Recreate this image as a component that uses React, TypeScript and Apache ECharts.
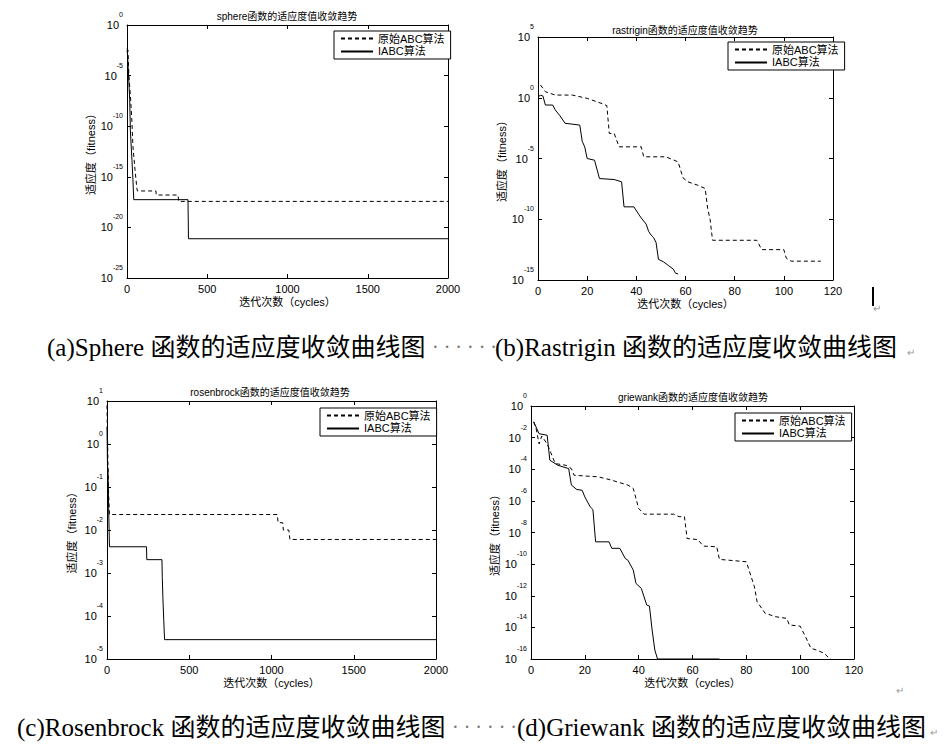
import React, { useEffect, useRef } from "react";
import * as echarts from "echarts";

// Each point: [cycle, log10(fitness)]
const sphereABC: [number, number][] = [
  [0, -2.3], [6, -2.5], [12, -5.1], [23, -7.4], [31, -9.7], [37, -12.0], [48, -14.0], [62, -16.2],
  [65, -16.4], [180, -16.4], [183, -16.8], [318, -16.8], [322, -17.43], [2000, -17.43],
];
const sphereIABC: [number, number][] = [
  [0, -2.5], [3, -2.8], [17, -7.4], [21, -10.4], [31, -13.4], [37, -15.3], [42, -17.26],
  [380, -17.26], [383, -21.12], [2000, -21.12],
];
const rastriginABC: [number, number][] = [
  [1, 1.05], [3, 0.5], [7, 0.22], [14, 0.22], [20, -0.05], [27, -0.55], [28, -0.65], [29, -2.94],
  [31, -2.94], [32, -3.5], [33, -4.04], [42, -4.04], [43, -4.86], [52, -4.86], [57, -5.28],
  [59, -6.6], [61, -6.92], [65, -7.2], [68, -7.47], [69, -9.1], [70, -10.0], [71, -11.73],
  [89, -11.73], [91, -12.5], [100, -12.5], [101, -13.2], [103, -13.45], [115, -13.45],
];
const rastriginIABC: [number, number][] = [
  [0, 0.08], [1, 0.2], [2, 0.15], [3, -0.6], [6, -0.6], [7, -1.0], [9, -1.5], [11, -2.1],
  [17, -2.25], [18, -3.6], [19, -4.04], [20, -5.0], [23, -5.14], [25, -6.65], [31, -6.73],
  [34, -6.92], [35, -8.98], [39, -8.98], [41, -9.6], [42, -9.9], [44, -10.4], [45, -11.0],
  [46, -11.3], [47, -11.5], [48, -11.9], [49, -13.3], [51, -13.5], [53, -13.8], [55, -14.1],
  [56, -14.45], [57, -14.5],
];
const rosenbrockABC: [number, number][] = [
  [0, 0.9], [3, 0.2], [6, -0.5], [10, -1.2], [15, -1.64], [1035, -1.64], [1040, -1.83],
  [1068, -1.83], [1072, -2.0], [1105, -2.0], [1112, -2.22], [2000, -2.22],
];
const rosenbrockIABC: [number, number][] = [
  [0, 0.4], [3, -0.5], [6, -0.6], [10, -1.5], [15, -2.39], [240, -2.39], [242, -2.69],
  [334, -2.69], [336, -3.1], [340, -3.6], [345, -4.1], [350, -4.55], [2000, -4.55],
];
const griewankABC: [number, number][] = [
  [1, -1.0], [2, -1.5], [3, -2.4], [4, -1.9], [6, -2.4], [7, -2.8], [9, -3.64], [13, -3.75],
  [15, -3.96], [16, -4.38], [25, -4.48], [30, -4.69], [32, -4.8], [36, -5.0], [38, -5.22],
  [40, -6.48], [42, -6.84], [53, -6.84], [55, -7.0], [57, -7.0], [58, -8.38], [62, -8.45],
  [64, -8.86], [69, -8.9], [70, -9.7], [80, -9.85], [81, -10.38], [83, -11.43], [84, -12.38],
  [87, -13.11], [91, -13.33], [95, -13.43], [96, -13.85], [100, -13.92], [102, -14.6],
  [104, -15.32], [106, -15.43], [109, -15.64], [111, -16.0], [112, -16.05],
];
const griewankIABC: [number, number][] = [
  [1, -1.0], [3, -1.75], [6, -1.85], [7, -3.43], [10, -3.75], [14, -3.96], [15, -5.0],
  [17, -5.28], [19, -5.33], [20, -5.75], [22, -6.38], [23, -6.55], [24, -8.59], [29, -8.59],
  [30, -9.0], [33, -9.0], [35, -9.64], [36, -9.75], [38, -10.38], [39, -11.22], [41, -11.54],
  [43, -12.59], [44, -12.65], [45, -14.17], [46, -15.43], [47, -16.0], [70, -16.0],
];

const seriesNames = ["原始ABC算法", "IABC算法"];
const titles = [
  "sphere函数的适应度值收敛趋势",
  "rastrigin函数的适应度值收敛趋势",
  "rosenbrock函数的适应度值收敛趋势",
  "griewank函数的适应度值收敛趋势",
];
const xName = "迭代次数（cycles）";
const yName = "适应度（fitness）";
const captionsRow1 = ["(a)Sphere 函数的适应度收敛曲线图", "(b)Rastrigin 函数的适应度收敛曲线图"];
const captionsRow2 = ["(c)Rosenbrock 函数的适应度收敛曲线图", "(d)Griewank 函数的适应度收敛曲线图"];

const SANS = "'Liberation Sans', 'Noto Sans CJK SC', sans-serif";
const SERIF = "'Liberation Serif', 'Noto Sans CJK SC', serif";

const panels = [
  { grid: { left: 127, top: 25, width: 321, height: 253 }, xMax: 2000, xInt: 500, yMin: -25, yMax: 0, yInt: 5,
    tx: 287, ty: 16, abc: sphereABC, iabc: sphereIABC, lg: { left: 334, top: 31 } },
  { grid: { left: 538, top: 37, width: 295, height: 243 }, xMax: 120, xInt: 20, yMin: -15, yMax: 5, yInt: 5,
    tx: 685, ty: 30, abc: rastriginABC, iabc: rastriginIABC, lg: { left: 728, top: 42 } },
  { grid: { left: 107, top: 401, width: 329, height: 258 }, xMax: 2000, xInt: 500, yMin: -5, yMax: 1, yInt: 1,
    tx: 270, ty: 392, abc: rosenbrockABC, iabc: rosenbrockIABC, lg: { left: 320, top: 408 } },
  { grid: { left: 531, top: 406, width: 323, height: 253 }, xMax: 120, xInt: 20, yMin: -16, yMax: 0, yInt: 2,
    tx: 693, ty: 397, abc: griewankABC, iabc: griewankIABC, lg: { left: 735, top: 413 } },
];

export default function App() {
  const ref = useRef<HTMLDivElement>(null);
  useEffect(() => {
    if (!ref.current) return;
    const chart = echarts.init(ref.current, undefined, { renderer: "svg" });
    const axisLine = { show: true, onZero: false, lineStyle: { color: "#000", width: 1 } };
    const tick = { show: true, inside: true, length: 4, lineStyle: { color: "#000", width: 1 } };
    const xAxis: any[] = [];
    const yAxis: any[] = [];
    const series: any[] = [];
    const legend: any[] = [];
    const graphic: any[] = [];
    panels.forEach((p, i) => {
      const xBase = { type: "value", gridIndex: i, min: 0, max: p.xMax, interval: p.xInt, splitLine: { show: false }, axisLine, axisTick: tick };
      const yBase = { type: "value", gridIndex: i, min: p.yMin, max: p.yMax, interval: p.yInt, splitLine: { show: false }, axisLine, axisTick: tick };
      xAxis.push({
        ...xBase, position: "bottom",
        axisLabel: { color: "#000", fontSize: 11, fontFamily: SANS, margin: 5, formatter: (v: number) => String(v) },
        name: xName, nameLocation: "middle", nameGap: 18,
        nameTextStyle: { color: "#000", fontSize: 11, fontFamily: SANS },
      });
      xAxis.push({ ...xBase, position: "top", axisLabel: { show: false } });
      yAxis.push({
        ...yBase, position: "left",
        axisLabel: {
          margin: 4,
          formatter: (v: number) => `{b|10}{s|${Math.round(v)}}`,
          rich: {
            b: { fontSize: 11, fontFamily: SANS, color: "#000", verticalAlign: "middle", lineHeight: 28 },
            s: { fontSize: 7, fontFamily: SANS, color: "#000", verticalAlign: "top", lineHeight: 10 },
          },
        },
        name: yName, nameLocation: "middle", nameGap: 30,
        nameTextStyle: { color: "#000", fontSize: 11, fontFamily: SANS },
      });
      yAxis.push({ ...yBase, position: "right", axisLabel: { show: false } });
      series.push({
        type: "line", name: seriesNames[0], xAxisIndex: 2 * i, yAxisIndex: 2 * i, data: p.abc,
        symbol: "none", lineStyle: { color: "#000", width: 1, type: [4, 3] }, itemStyle: { color: "#000" },
      });
      series.push({
        type: "line", name: seriesNames[1], xAxisIndex: 2 * i, yAxisIndex: 2 * i, data: p.iabc,
        symbol: "none", lineStyle: { color: "#000", width: 1, type: "solid" }, itemStyle: { color: "#000" },
      });
      legend.push({
        left: p.lg.left, top: p.lg.top, orient: "vertical", data: seriesNames,
        backgroundColor: "#fff", borderColor: "#000", borderWidth: 1, borderRadius: 0,
        padding: [2, 6, 2, 6], itemGap: 2, itemWidth: 32, itemHeight: 12,
        itemStyle: { color: "rgba(0,0,0,0)", borderWidth: 0 },
        textStyle: { color: "#000", fontSize: 11, fontFamily: SANS },
        selectedMode: false,
      });
      graphic.push({
        type: "text", x: p.tx, y: p.ty,
        style: { text: titles[i], fill: "#000", font: `10px ${SANS}`, align: "center", verticalAlign: "middle" },
      });
    });
    const cap = (text: string, x: number, y: number) => ({
      type: "text", x, y,
      style: { text, fill: "#000", font: `25px ${SERIF}`, align: "left", verticalAlign: "middle" },
    });
    const dots = (x: number, y: number) => ({
      type: "text", x, y,
      style: { text: "· · · · · ·", fill: "#777", font: `20px ${SERIF}`, align: "left", verticalAlign: "middle" },
    });
    const ret = (x: number, y: number) => ({
      type: "text", x, y,
      style: { text: "↵", fill: "#999", font: `10px ${SANS}`, align: "left", verticalAlign: "middle" },
    });
    graphic.push(cap(captionsRow1[0], 47, 347), dots(432, 347), cap(captionsRow1[1], 495, 347), ret(907, 352));
    graphic.push(cap(captionsRow2[0], 17, 727), dots(452, 727), cap(captionsRow2[1], 517, 727), ret(930, 732));
    graphic.push(ret(873, 308), ret(896, 690));
    graphic.push({ type: "line", shape: { x1: 873, y1: 287, x2: 873, y2: 306 }, style: { stroke: "#000", lineWidth: 2 } });

    chart.setOption({
      animation: false,
      backgroundColor: "#fff",
      grid: panels.map((p) => ({ ...p.grid, containLabel: false })),
      xAxis, yAxis, series, legend, graphic,
    });
    return () => chart.dispose();
  }, []);
  return <div ref={ref} style={{ position: "absolute", left: 0, top: 0, width: 951, height: 752 }} />;
}
